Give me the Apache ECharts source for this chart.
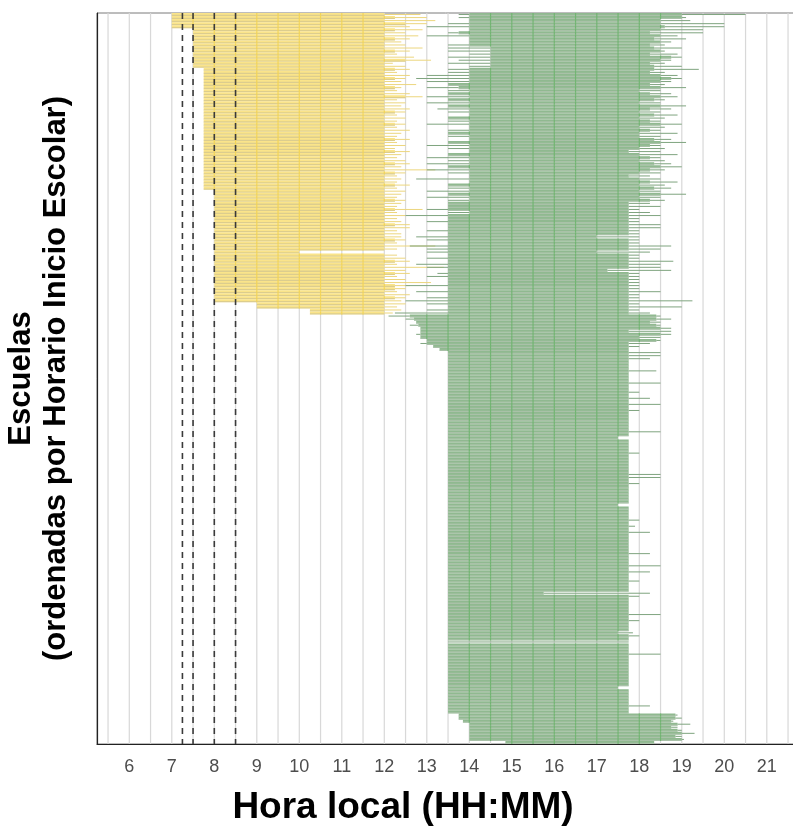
<!DOCTYPE html>
<html><head><meta charset="utf-8">
<script src="https://cdn.jsdelivr.net/npm/echarts@6/dist/echarts.min.js"></script>
<style>html,body{margin:0;padding:0;background:#fff}#c{width:793px;height:833px}</style>
</head><body><div id="c"></div>
<script>
// ---- tick labels / reference lines ----
const hourLabels = [6,7,8,9,10,11,12,13,14,15,16,17,18,19,20,21];
const gridTimes = [5.5,6,6.5,7,7.5,8,8.5,9,9.5,10,10.5,11,11.5,12,12.5,13,13.5,14,14.5,15,15.5,16,16.5,17,17.5,18,18.5,19,19.5,20,20.5,21,21.5];
const refTimes = [7.25,7.5,8,8.5];

// ---- morning shift (rows 0..98) ----
const mStart = [
7,7,7,7,7,7.5,7.5,7.5,7.5,7.5,
7.5,7.5,7.5,7.5,7.5,7.5,7.5,7.5,7.75,7.75,
7.75,7.75,7.75,7.75,7.75,7.75,7.75,7.75,7.75,7.75,
7.75,7.75,7.75,7.75,7.75,7.75,7.75,7.75,7.75,7.75,
7.75,7.75,7.75,7.75,7.75,7.75,7.75,7.75,7.75,7.75,
7.75,7.75,7.75,7.75,7.75,7.75,7.75,7.75,8,8,
8,8,8,8,8,8,8,8,8,8,
8,8,8,8,8,8,8,8,8,8,
8,8,8,8,8,8,8,8,8,8,
8,8,8,8,8,9,9,10.25,10.25];
const mEnd = [
12,12.25,12,12.5,12,12.25,12,12,12.25,12,
12,12,12.25,12,12,12.5,12,12,12.25,12,
12,12.25,12,12,12.25,12,12,12.5,12,12,
12,12,12.25,12,12,12,12.25,12,12,12,
12,12.25,12,12,12,12.25,12,12,12,12.25,
12,12,12.25,12,12,12,12.25,12,12,12,
12,12.25,12,12,12.25,12,12,12,12,12.25,
12,12,12,12,12.25,12,12,12,10,12,
12,12.25,12,12,12,12.25,12,12,12,12.25,
12.25,12,12,12.25,12,12,12,12,12];
const mExt = [
12.85,13,13.2,13,12.6,12.9,12.5,12.8,12.6,12.4,
12.5,12.9,12.6,12.3,12.7,13.1,12.2,12.5,12.6,12.3,
12.6,12.5,12.4,12.75,12.4,12.3,12.6,12.9,12.3,12.5,
12.4,12.6,12.5,12.3,12.5,12.3,12.5,12.3,12.6,12.4,
12.3,12.6,12.3,12.5,12.25,12.6,12.4,12.3,12.5,12.6,
12.4,13.2,12.5,12.3,12.4,12.3,12.6,12.3,12.5,12.4,
12.3,12.5,12.4,12.3,12.9,12.3,12.5,12.3,12.4,12.6,
12.6,12.3,12.4,12.4,12.5,12.3,13.2,12.3,10,12.3,
12.5,12.6,12.3,13.4,12.5,12.6,12.3,12.5,13.1,12.6,
12.5,12.3,12.6,12.5,12.4,12.5,12.3,12.4,12.2];

// ---- afternoon shift (rows 0..239) ----
const aStart = [
14,14,14,14,14,14,13.75,14,14,14,
14,14.5,14.5,14.5,14.5,14.5,14.5,14.5,14,14,
14,14,14,13.5,13.75,14,13.5,14,13.5,14,
13.5,14,14,14,13.5,14,14,14,14,13.5,
14,14,13.5,14,14,14,13.5,14,14,14,
13.5,14,14,14,14,14,13.5,14,14,13.5,
14,14,13.5,13.5,13.5,14,13.5,13.5,13.5,13.5,
13.5,13.5,13.5,13.5,13.5,13.5,13.5,13.5,13.5,13.5,
13.5,13.5,13.5,13.5,13.5,13.5,13.5,13.5,13.5,13.5,
13.5,13.5,13.5,13.5,13.5,13.5,13.5,13.5,13.5,12.6,
12.7,12.75,12.8,12.85,12.85,12.85,12.85,13,13,13.15,
13.3,13.5,13.5,13.5,13.5,13.5,13.5,13.5,13.5,13.5,
13.5,13.5,13.5,13.5,13.5,13.5,13.5,13.5,13.5,13.5,
13.5,13.5,13.5,13.5,13.5,13.5,13.5,13.5,13.5,13.5,
13.5,13.5,13.5,13.5,13.5,13.5,13.5,13.5,13.5,13.5,
13.5,13.5,13.5,13.5,13.5,13.5,13.5,13.5,13.5,13.5,
13.5,13.5,13.5,13.5,13.5,13.5,13.5,13.5,13.5,13.5,
13.5,13.5,13.5,13.5,13.5,13.5,13.5,13.5,13.5,13.5,
13.5,13.5,13.5,13.5,13.5,13.5,13.5,13.5,13.5,13.5,
13.5,13.5,13.5,13.5,13.5,13.5,13.5,13.5,13.5,13.5,
13.5,13.5,13.5,13.5,13.5,13.5,13.5,13.5,13.5,13.5,
13.5,13.5,13.5,13.5,13.5,13.5,13.5,13.5,13.5,13.5,
13.5,13.5,13.5,13.5,13.5,13.5,13.5,13.5,13.5,13.5,
13.75,13.75,13.85,14,14,14,14,14,14,14.85];
const aEnd = [
19,19,18.5,18.5,18.6,18.5,18.25,18.5,18.35,18.5,
18.25,18.35,18.5,18.25,18.75,18.5,18.25,18.35,18.35,18.25,
18.5,18.75,18.5,18.25,18.5,18,18.25,18.5,18.35,18,
18.5,18.25,18,18.35,18,18.25,18.5,18,18.25,18,
18,18.35,18.5,18.25,18,17.75,18,18.25,18,18.35,
18.5,18.25,18,17.75,18,18.25,18,18.35,18,18.5,
18,18.25,17.75,17.75,17.75,17.75,17.75,17.75,17.75,17.75,
17.75,17.75,17.75,17,17.75,17.75,17.75,17.75,17,17.75,
17.75,17.75,17.75,17.75,17.25,17.75,17.75,17.75,17.75,17.75,
17.75,17.75,17.75,17.75,17.75,17.75,17.75,17.75,17.75,18.4,
18.4,18.25,18.4,18.5,17.75,18.5,18,18.4,17.75,17.75,
17.75,17.75,17.75,17.75,17.75,17.75,17.75,17.75,17.75,17.75,
17.75,17.75,17.75,17.75,17.75,17.75,17.75,17.75,17.75,17.75,
17.75,17.75,17.75,17.75,17.75,17.75,17.75,17.75,17.75,17.5,
17.75,17.75,17.75,17.75,17.75,17.75,17.75,17.75,17.75,17.75,
17.75,17.75,17.75,17.75,17.75,17.75,17.75,17.75,17.75,17.75,
17.75,17.5,17.75,17.75,17.75,17.75,17.75,17.75,17.75,17.75,
17.75,17.75,17.75,17.75,17.75,17.75,17.75,17.75,17.75,17.75,
17.75,17.75,17.75,17.75,17.75,17.75,17.75,17.75,17.75,17.75,
15.75,17.75,17.75,17.75,17.75,17.75,17.75,17.75,17.75,17.75,
17.75,17.75,17.75,17.5,17.75,17.75,13.5,17.75,17.75,17.75,
17.75,17.75,17.75,17.75,17.75,17.75,17.75,17.75,17.75,17.75,
17.75,17.5,17.75,17.75,17.75,17.75,17.75,17.75,17.75,17.75,
18.85,18.85,18.75,18.9,18.75,18.9,19,18.85,19,18.35];
const aExt = [
20.5,19.1,19.2,20,20,19.5,19.5,18.9,19.1,18.75,
18.6,19,18.6,18.9,19,18.75,18.6,19,19.4,18.6,
18.9,19,18.75,18.6,19.1,18.5,18.75,18.9,18.6,18.5,
19.1,18.75,18.5,18.9,18.6,18.5,19,18.6,18.5,18.9,
18.5,18.75,19.1,18.5,18.6,18.5,18.9,18.5,18.6,18.75,
19,18.6,18.5,18.25,18.5,18.9,18.6,18.75,18.5,19.1,
18.5,18.6,18.25,18.5,18,18.25,18.5,18,18,18.5,
18.5,18,18,18,18,18,18.75,18.5,18.25,18,
18,18.8,18.5,18.5,18.75,18,18,18,18,18,
18,18.5,18,18,19.25,18,19,18,18.25,18.5,
18.75,18.5,18.5,18.75,18.75,18.75,18.5,18.5,18.25,18,
null,18.5,18.5,18.25,null,null,null,18.4,null,null,
null,18.5,null,null,18,null,18.25,null,18.5,null,
18,null,null,null,null,null,null,18.5,null,null,
null,null,null,null,18,null,null,null,null,null,
null,18.5,18.5,null,18,null,null,null,null,null,
null,null,null,null,null,null,18,null,17.9,null,
18.25,null,null,null,null,null,null,18.25,null,null,
null,18.5,null,18.25,null,null,18,null,null,null,
18.25,18,null,null,null,null,null,18.5,null,18,
null,null,null,17.85,18,null,17.75,null,null,null,
18.5,null,null,null,null,null,null,null,null,null,
null,null,null,null,null,null,null,18.25,null,null,
18.9,19,18.8,19.2,18.9,19,19.3,19,19.05,null];
const aPre = [
13.75,13.75,null,13.5,13,null,13.5,13,null,null,
13.5,13.5,13.5,14,13.5,13.75,13.5,14,13.5,13.5,
13,12.75,13,null,13,13.5,null,13,null,13,
null,13.25,13.5,null,null,13.5,13,null,13.5,null,
13.5,null,null,13,13.5,null,null,13,13.5,13,
null,13,13.5,null,12.75,null,null,13.5,13,null,
13,13.5,null,null,13,13.5,12.5,null,13,null,
null,13,null,12.75,13,null,12.6,13,13,null,
13,null,12.75,13,null,13.25,13,null,null,12.5,
null,12.75,null,13,12.5,13,null,13,12.25,12.1,
12.5,null,12.6,null,null,12.75,null,null,12.85,null];

const N = aStart.length;

const YEL = {band:'#fae48a', gray:'rgba(172,168,150,0.38)', sat:'#f2d458', thin:'#ecd67e'};
const GRN = {band:'#90b990', gray:'rgba(200,204,198,0.45)', sat:'#72b572', thin:'#7fa47f'};

const chart = echarts.init(document.getElementById('c'));

function renderRow(params, api) {
  const i = api.value(0);
  const p1 = api.coord([6, i - 0.5])[1];
  const p2 = api.coord([6, i + 0.5])[1];
  const y0 = Math.min(p1, p2), h = Math.abs(p2 - p1);
  const yc = y0 + h / 2;
  const kids = [];
  const X = t => api.coord([t, i])[0];
  function thin(s, e, col) {
    if (s == null || e == null || !(e > s)) return;
    kids.push({type:'line', shape:{x1:X(s), y1:yc, x2:X(e), y2:yc},
      style:{stroke:col, lineWidth:1}});
  }
  function band(s, e, pal) {
    if (s == null || e == null || !(e > s)) return;
    const x0 = X(s), x1 = X(e);
    kids.push({type:'rect', shape:{x:x0, y:y0, width:x1 - x0, height:h}, style:{fill:pal.band}});
    kids.push({type:'rect', shape:{x:x0, y:y0 + h * 0.58, width:x1 - x0, height:h * 0.42}, style:{fill:pal.gray}});
    gridTimes.forEach(t => {
      if (t > s && t < e) {
        const xt = X(t);
        kids.push({type:'rect', shape:{x:xt - 0.6, y:y0, width:1.2, height:h}, style:{fill:pal.sat}});
      }
    });
  }
  if (i < mStart.length) {
    band(mStart[i], mEnd[i], YEL);
    thin(mEnd[i], mExt[i], YEL.thin);
  }
  const pre = i < aPre.length ? aPre[i] : null;
  thin(pre, aStart[i], GRN.thin);
  band(aStart[i], aEnd[i], GRN);
  thin(aEnd[i], aExt[i], GRN.thin);
  return {type:'group', children:kids};
}

function renderGrid(params, api) {
  const t = api.value(0);
  const a = api.coord([t, -0.5]), b = api.coord([t, N - 0.5]);
  return {type:'line', shape:{x1:a[0], y1:a[1], x2:b[0], y2:b[1]},
    style:{stroke:'#d8d8d8', lineWidth:1.2}};
}

function renderRef(params, api) {
  const t = api.value(0);
  const a = api.coord([t, -0.5]), b = api.coord([t, N - 0.5]);
  return {type:'line', shape:{x1:a[0], y1:a[1], x2:b[0], y2:b[1]},
    style:{stroke:'#3a3a3a', lineWidth:1.6, lineDash:[6,5]}};
}

const FONT = 'Liberation Sans, Arial, Helvetica, sans-serif';

chart.setOption({
  animation: false,
  backgroundColor: '#ffffff',
  title: {
    text: 'Hora local (HH:MM)', left: 398, textAlign: 'center', top: 784,
    textStyle: {fontSize: 37, fontWeight: 'bold', color: '#000', fontFamily: FONT}
  },
  grid: {left: 97, top: 13, right: -1, bottom: 89, show: true, borderColor: '#7a7a7a', borderWidth: 1,
         outerBoundsMode: 'none', containLabel: false},
  xAxis: {
    type: 'value', min: 5.24, max: 21.64,
    axisLine: {show: true, onZero: false, lineStyle: {color: '#222', width: 1.2}},
    axisTick: {show: false},
    splitLine: {show: false},
    axisLabel: {customValues: hourLabels, color: '#4d4d4d', fontSize: 18, margin: 14, fontFamily: FONT}
  },
  yAxis: {
    type: 'value', inverse: true, min: -0.5, max: N - 0.5,
    axisLine: {show: true, onZero: false, lineStyle: {color: '#222', width: 1.2}},
    axisTick: {show: false}, axisLabel: {show: false}, splitLine: {show: false},
    name: 'Escuelas\n(ordenadas por Horario Inicio Escolar)',
    nameLocation: 'middle', nameRotate: 90, nameGap: 23,
    nameTextStyle: {fontSize: 31, fontWeight: 'bold', color: '#000', fontFamily: FONT, lineHeight: 35}
  },
  series: [
    {type: 'custom', renderItem: renderGrid, data: gridTimes.map(t => [t]), encode: {x: 0}, clip: true, z: 1, silent: true},
    {type: 'custom', renderItem: renderRow, data: aStart.map((v, i) => [i]), encode: {y: 0}, clip: true, z: 2, silent: true},
    {type: 'custom', renderItem: renderRef, data: refTimes.map(t => [t]), encode: {x: 0}, clip: true, z: 3, silent: true}
  ]
});
</script>
</body></html>
